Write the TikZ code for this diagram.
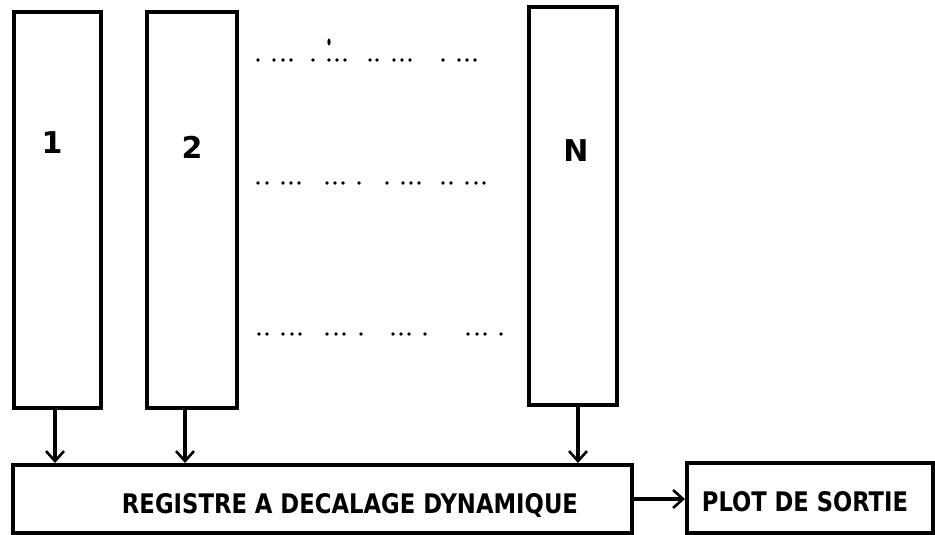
\documentclass[tikz,border=0pt]{standalone}
\usepackage{graphicx}
\usepackage{fontspec}
\setmainfont{DejaVu Sans}
\usetikzlibrary{arrows.meta}
\begin{document}
\begin{tikzpicture}[x=1pt,y=-1pt,
  blk/.style={draw,line width=4pt,rectangle,inner sep=0pt},
  lbl/.style={font=\fontsize{30}{34}\selectfont\bfseries,inner sep=0pt},
  conn/.style={line width=3.2pt,-{Straight Barb[length=10pt,width=18pt,line width=2.6pt]}},
  dotf/.style={fill=black}]
\useasboundingbox (0,0) rectangle (935,535);
% column blocks
\node[blk,minimum width=87pt,minimum height=396pt] (b1) at (57.5,210) {};
\node[blk,minimum width=90pt,minimum height=396pt] (b2) at (192,210) {};
\node[blk,minimum width=88pt,minimum height=398pt] (bN) at (573,206) {};
\node[lbl] (l1) at (52,143) {1};
\node[lbl] (l2) at (192,147) {2};
\node[lbl] (lN) at (576,151) {N};
% register and output
\node[blk,minimum width=619pt,minimum height=68pt] (reg) at (322.5,499) {};
\node[blk,minimum width=246pt,minimum height=70pt] (plot) at (810,498) {};
\node[inner sep=0pt] (treg) at (350,505) {\resizebox{456pt}{20pt}{\bfseries REGISTRE A DECALAGE DYNAMIQUE}};
\node[inner sep=0pt] (tplot) at (805,502) {\resizebox{206pt}{20pt}{\bfseries PLOT DE SORTIE}};
% connectors
\draw[conn] ([xshift=-2.5pt]b1.south) -- ([xshift=-2.5pt]b1.south |- reg.north);
\draw[conn] ([xshift=-7pt]b2.south) -- ([xshift=-7pt]b2.south |- reg.north);
\draw[conn] ([xshift=5pt]bN.south) -- ([xshift=5pt]bN.south |- reg.north);
\draw[conn] (reg.east |- 0,499) -- (plot.west |- 0,499);
% dotted rows
\foreach \x in {258,274,283,291,313,329,337,345,370,377,394,402,410,443,459,467,475}
  \fill[dotf] (\x,60) circle (1.8pt);
\fill[dotf] (329,42) ellipse (1.6pt and 3.5pt);
\foreach \x in {258,267,283,291,299,327,335,343,359,387,403,411,419,443,451,467,476,484}
  \fill[dotf] (\x,183) circle (1.8pt);
\foreach \x in {259,267,283,292,300,327,336,344,361,393,401,409,425,468,477,485,501}
  \fill[dotf] (\x,334) circle (1.8pt);
\end{tikzpicture}
\end{document}
